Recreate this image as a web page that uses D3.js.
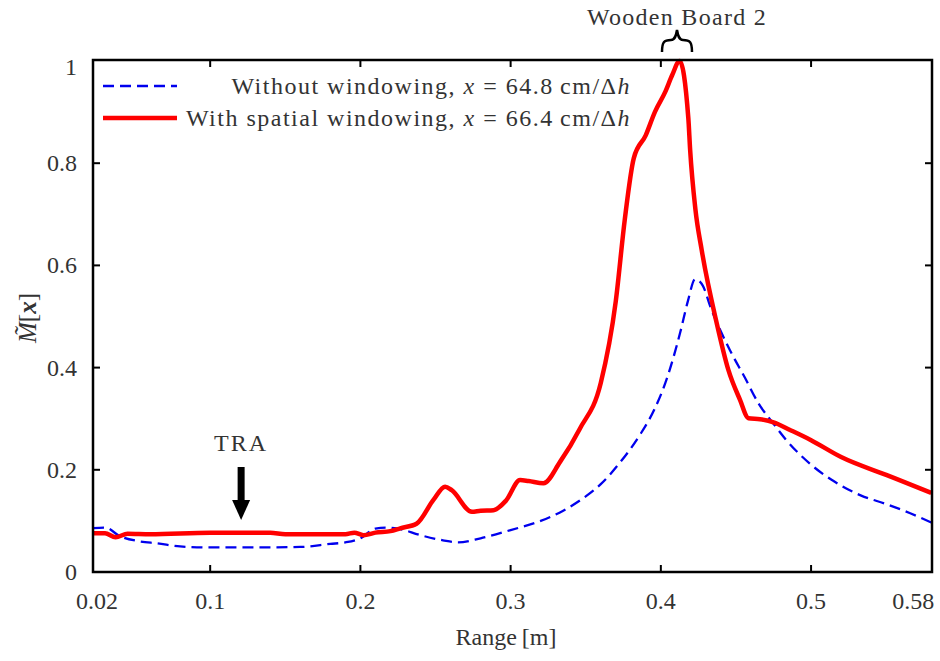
<!DOCTYPE html>
<html>
<head>
<meta charset="utf-8">
<script src="https://cdn.jsdelivr.net/npm/d3@7"></script>
<style>
  body { margin: 0; background: #fff; }
  svg text { font-family: "Liberation Serif", "DejaVu Serif", serif; fill: #333; }
</style>
</head>
<body>
<svg id="chart" width="940" height="661"></svg>
<script>
// range [m] / normalised metric
var plainX = [0.022, 0.03, 0.04, 0.053, 0.065, 0.08, 0.1, 0.13, 0.16, 0.18, 0.19, 0.2, 0.21, 0.217, 0.225,
  0.24, 0.255, 0.265, 0.28, 0.3, 0.32, 0.335, 0.35, 0.36, 0.373, 0.386, 0.396, 0.403, 0.413, 0.418, 0.4228,
  0.428, 0.433, 0.446, 0.456, 0.465, 0.475, 0.483, 0.5, 0.515, 0.533, 0.55, 0.566, 0.58];
var plainY = [0.086, 0.087, 0.07, 0.06, 0.056, 0.05, 0.048, 0.048, 0.049, 0.055, 0.058, 0.066, 0.085, 0.087, 0.085,
  0.072, 0.062, 0.058, 0.066, 0.082, 0.1, 0.12, 0.148, 0.172, 0.215, 0.268, 0.32, 0.37, 0.47, 0.53, 0.573,
  0.56, 0.519, 0.434, 0.38, 0.33, 0.29, 0.26, 0.21, 0.178, 0.15, 0.133, 0.115, 0.097];

var windowX = [0.022, 0.03, 0.037, 0.045, 0.06, 0.1, 0.14, 0.15, 0.19, 0.196, 0.202, 0.21, 0.22, 0.2265, 0.2376,
  0.2486, 0.2564, 0.2608, 0.2742, 0.28, 0.2886, 0.297, 0.3063, 0.312, 0.3218, 0.333, 0.346, 0.36, 0.37, 0.376,
  0.382, 0.39, 0.396, 0.403, 0.4075, 0.4125, 0.4183, 0.4195, 0.423, 0.4272, 0.4372, 0.445, 0.4527, 0.4583,
  0.466, 0.475, 0.486, 0.5, 0.52, 0.55, 0.58];
var windowY = [0.076, 0.076, 0.068, 0.075, 0.074, 0.077, 0.077, 0.074, 0.074, 0.077, 0.072, 0.077, 0.08, 0.0855, 0.095,
  0.141, 0.167, 0.16, 0.118, 0.12, 0.121, 0.14, 0.18, 0.178, 0.1736, 0.216, 0.28, 0.37, 0.53, 0.69,
  0.81, 0.855, 0.9, 0.94, 0.972, 1.0, 0.888, 0.826, 0.71, 0.63, 0.487, 0.395, 0.337, 0.301,
  0.299, 0.293, 0.278, 0.258, 0.225, 0.19, 0.155];

var xTicks = [0.1, 0.2, 0.3, 0.4, 0.5];
var xLabels = ["0.02", "0.1", "0.2", "0.3", "0.4", "0.5", "0.58"];
var xLabelAt = [0.0247, 0.1, 0.2, 0.3, 0.4, 0.5, 0.568];
var yTicks = [0, 0.2, 0.4, 0.6, 0.8, 1];

var legendPlain = ["Without windowing, ", "x", " = 64.8\u2009cm/\u0394", "h"];
var legendWindow = ["With spatial windowing, ", "x", " = 66.4\u2009cm/\u0394", "h"];

var svg = d3.select("#chart");
var m = {left: 93, right: 932, top: 61, bottom: 572};

var x = d3.scaleLinear().domain([0.022, 0.5805]).range([m.left, m.right]);
var y = d3.scaleLinear().domain([0, 1]).range([m.bottom, m.top]);

var line = d3.line()
    .x(function (d) { return x(d[0]); })
    .y(function (d) { return y(d[1]); })
    .curve(d3.curveMonotoneX);

var plot = svg.append("g");

// curves
plot.append("path")
    .datum(d3.zip(plainX, plainY))
    .attr("d", line)
    .attr("fill", "none")
    .attr("stroke", "#0000ee")
    .attr("stroke-width", 2.3)
    .attr("stroke-dasharray", "11,6");

plot.append("path")
    .datum(d3.zip(windowX, windowY))
    .attr("d", line)
    .attr("fill", "none")
    .attr("stroke", "#ff0000")
    .attr("stroke-width", 4.5)
    .attr("stroke-linejoin", "round");

// frame + inward ticks
svg.append("rect")
    .attr("x", m.left).attr("y", m.top - 1)
    .attr("width", m.right - m.left).attr("height", m.bottom - m.top + 1)
    .attr("fill", "none").attr("stroke", "#000").attr("stroke-width", 2.5);

var tickLen = 7;
xTicks.forEach(function (t) {
    svg.append("line").attr("x1", x(t)).attr("x2", x(t))
        .attr("y1", m.bottom).attr("y2", m.bottom - tickLen).attr("stroke", "#000").attr("stroke-width", 2);
    svg.append("line").attr("x1", x(t)).attr("x2", x(t))
        .attr("y1", m.top - 1).attr("y2", m.top - 1 + tickLen).attr("stroke", "#000").attr("stroke-width", 2);
});
yTicks.slice(1, -1).forEach(function (t) {
    svg.append("line").attr("x1", m.left).attr("x2", m.left + tickLen)
        .attr("y1", y(t)).attr("y2", y(t)).attr("stroke", "#000").attr("stroke-width", 2);
    svg.append("line").attr("x1", m.right).attr("x2", m.right - tickLen)
        .attr("y1", y(t)).attr("y2", y(t)).attr("stroke", "#000").attr("stroke-width", 2);
});

// tick labels
xLabels.forEach(function (lab, i) {
    svg.append("text")
        .attr("x", x(xLabelAt[i])).attr("y", 609)
        .attr("text-anchor", "middle")
        .style("font-size", "24px")
        .text(lab);
});
yTicks.forEach(function (t) {
    svg.append("text")
        .attr("x", 77).attr("y", y(t) + (t === 1 ? 6 : 0))
        .attr("dy", "0.33em")
        .attr("text-anchor", "end")
        .style("font-size", "24px")
        .text(d3.format("")(t));
});

// axis titles
svg.append("text")
    .attr("x", 506).attr("y", 645)
    .attr("text-anchor", "middle")
    .style("font-size", "24px")
    .text("Range\u2009[m]");

var yl = svg.append("text")
    .attr("transform", "translate(36,318) rotate(-90)")
    .attr("text-anchor", "middle")
    .style("font-size", "25px");
yl.append("tspan").style("font-style", "italic").text("M\u0303");
yl.append("tspan").text("[");
yl.append("tspan").style("font-style", "italic").style("font-weight", "bold").text("x");
yl.append("tspan").text("]");

// legend
function legendText(parts, ty) {
    var t = svg.append("text")
        .attr("x", 631).attr("y", ty)
        .attr("text-anchor", "end")
        .style("font-size", "24px")
        .style("letter-spacing", "1.5px");
    parts.forEach(function (p, i) {
        t.append("tspan").style("font-style", i % 2 ? "italic" : "normal").text(p);
    });
}
svg.append("line").attr("x1", 103).attr("x2", 177).attr("y1", 86).attr("y2", 86)
    .attr("stroke", "#0000ee").attr("stroke-width", 2.3).attr("stroke-dasharray", "11,6");
legendText(legendPlain, 94);
svg.append("line").attr("x1", 103).attr("x2", 177).attr("y1", 118).attr("y2", 118)
    .attr("stroke", "#ff0000").attr("stroke-width", 4.5);
legendText(legendWindow, 126);

// annotations
svg.append("text")
    .attr("x", 677).attr("y", 25)
    .attr("text-anchor", "middle")
    .style("font-size", "24px")
    .style("letter-spacing", "1.3px")
    .text("Wooden Board 2");

var bx = 677;
svg.append("path")
    .attr("d", "M" + (bx - 15) + ",52 C" + (bx - 15) + ",42 " + (bx - 13) + ",40 " + (bx - 6) + ",40 C" + (bx - 2) + ",40 " + (bx - 1) + ",36 " + bx + ",30"
        + " C" + (bx + 1) + ",36 " + (bx + 2) + ",40 " + (bx + 6) + ",40 C" + (bx + 13) + ",40 " + (bx + 15) + ",42 " + (bx + 15) + ",52")
    .attr("fill", "none").attr("stroke", "#000").attr("stroke-width", 2.5);

var traX = x(0.1206);
svg.append("text")
    .attr("x", traX).attr("y", 451)
    .attr("text-anchor", "middle")
    .style("font-size", "24px")
    .style("letter-spacing", "2px")
    .text("TRA");
svg.append("rect")
    .attr("x", traX - 3.5).attr("y", 467).attr("width", 7).attr("height", 35).attr("fill", "#000");
svg.append("path")
    .attr("d", "M" + (traX - 9) + ",500 L" + (traX + 9) + ",500 L" + traX + ",520 Z")
    .attr("fill", "#000");
</script>
</body>
</html>
